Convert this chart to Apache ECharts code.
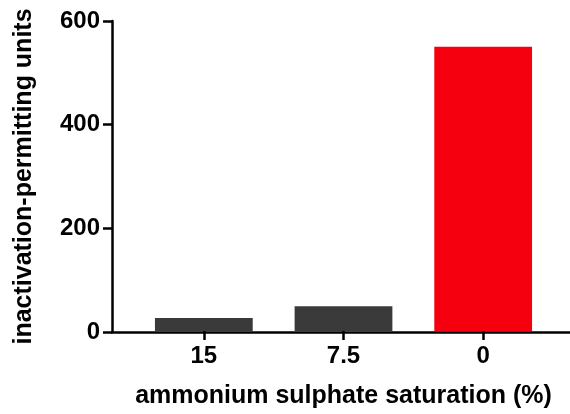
<!DOCTYPE html>
<html>
<head>
<meta charset="utf-8">
<script src="https://cdn.jsdelivr.net/npm/echarts@6/dist/echarts.min.js"></script>
<style>
html,body{margin:0;padding:0;background:#fff;}
#chart{width:570px;height:414px;}
</style>
</head>
<body>
<div id="chart"></div>
<script>
const categories = ['15', '7.5', '0'];
const values = [25, 48, 550];
const barColors = ['#3a3a3a', '#3a3a3a', '#f5000f'];
const yTicks = [0, 200, 400, 600];

const FONT = '"Liberation Sans", Arial, Helvetica, sans-serif';
const chart = echarts.init(document.getElementById('chart'), null, {renderer: 'canvas'});
chart.setOption({
  animation: false,
  backgroundColor: '#ffffff',
  grid: [
    {left: 112, right: 0, top: 21, bottom: 82},
    {left: 134, right: 17, top: 21, bottom: 82}
  ],
  xAxis: [
    {
      gridIndex: 0, type: 'value', min: 0, max: 1,
      axisLine: {show: true, lineStyle: {color: '#000', width: 2.5}},
      axisTick: {show: false}, axisLabel: {show: false}, splitLine: {show: false}
    },
    {
      gridIndex: 1, type: 'category', data: categories,
      axisLine: {show: false},
      axisTick: {show: true, alignWithLabel: true, length: 9, lineStyle: {color: '#000', width: 2.5}},
      axisLabel: {margin: 13, color: '#000', fontSize: 24, fontWeight: 'bold', fontFamily: FONT},
      name: 'ammonium sulphate saturation (%)',
      nameLocation: 'middle', nameGap: 53,
      nameTextStyle: {color: '#000', fontSize: 25, fontWeight: 'bold', fontFamily: FONT}
    }
  ],
  yAxis: [
    {
      gridIndex: 0, type: 'value', min: yTicks[0], max: yTicks[yTicks.length - 1], interval: 200,
      axisLine: {show: true, lineStyle: {color: '#000', width: 2.5}},
      axisTick: {show: true, length: 9, lineStyle: {color: '#000', width: 2.5}},
      axisLabel: {margin: 12, color: '#000', fontSize: 24, fontWeight: 'bold', fontFamily: FONT},
      splitLine: {show: false},
      name: 'inactivation-permitting units',
      nameLocation: 'middle', nameGap: 75,
      nameTextStyle: {color: '#000', fontSize: 25, fontWeight: 'bold', fontFamily: FONT}
    },
    {
      gridIndex: 1, type: 'value', min: yTicks[0], max: yTicks[yTicks.length - 1], interval: 200,
      show: false
    }
  ],
  series: [{
    type: 'bar',
    xAxisIndex: 1, yAxisIndex: 1,
    barWidth: '70%',
    data: values.map((v, i) => ({value: v, itemStyle: {color: barColors[i]}}))
  }]
});
</script>
</body>
</html>
